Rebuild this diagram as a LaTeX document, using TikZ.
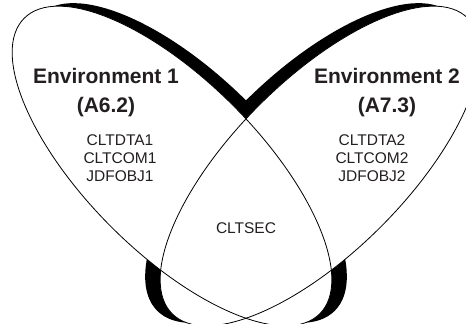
\documentclass[tikz,border=0pt]{standalone}
\usepackage{fontspec}
\setmainfont{Liberation Sans}
\usepackage{xcolor}
\usepackage{tikz}
\definecolor{inkgray}{HTML}{231F20}
\tikzset{
    shadowlobe/.style={fill=black},
    whitelobe/.style={fill=white},
    rimlobe/.style={draw=black, line width=0.8pt},
    envlabel/.style={text=inkgray, align=center, inner sep=0pt, font=\bfseries\fontsize{21}{29}\selectfont},
    objlabel/.style={text=inkgray, align=center, inner sep=0pt, font=\fontsize{15.5}{18}\selectfont}
}

\begin{document}
\begin{tikzpicture}[x=1pt,y=1pt]
    \useasboundingbox (0,0) rectangle (466,324);
    \clip (0,0) rectangle (466,324);
    % shadows first
    \fill[shadowlobe, rotate around={-45:(187,161)}] (187,161) ellipse [x radius=209pt, y radius=86pt];
    \fill[shadowlobe, rotate around={45:(305,161)}] (305,161) ellipse [x radius=209pt, y radius=86pt];
    % the two environments
    \fill[whitelobe, rotate around={-45:(172,158)}] (172,158) ellipse [x radius=209pt, y radius=86pt];
    \fill[whitelobe, rotate around={45:(320,158)}] (320,158) ellipse [x radius=209pt, y radius=86pt];
    \draw[rimlobe, rotate around={-45:(172,158)}] (172,158) ellipse [x radius=209pt, y radius=86pt];
    \draw[rimlobe, rotate around={45:(320,158)}] (320,158) ellipse [x radius=209pt, y radius=86pt];
    % labels
    \draw (106,231) node[envlabel] (env1) {Environment 1\\(A6.2)};
    \draw (387,231) node[envlabel] (env2) {Environment 2\\(A7.3)};
    \draw (120,166) node[objlabel] (objs1) {CLTDTA1\\CLTCOM1\\JDFOBJ1};
    \draw (372,166) node[objlabel] (objs2) {CLTDTA2\\CLTCOM2\\JDFOBJ2};
    \draw (246,96) node[objlabel] (shared) {CLTSEC};
\end{tikzpicture}
\end{document}
